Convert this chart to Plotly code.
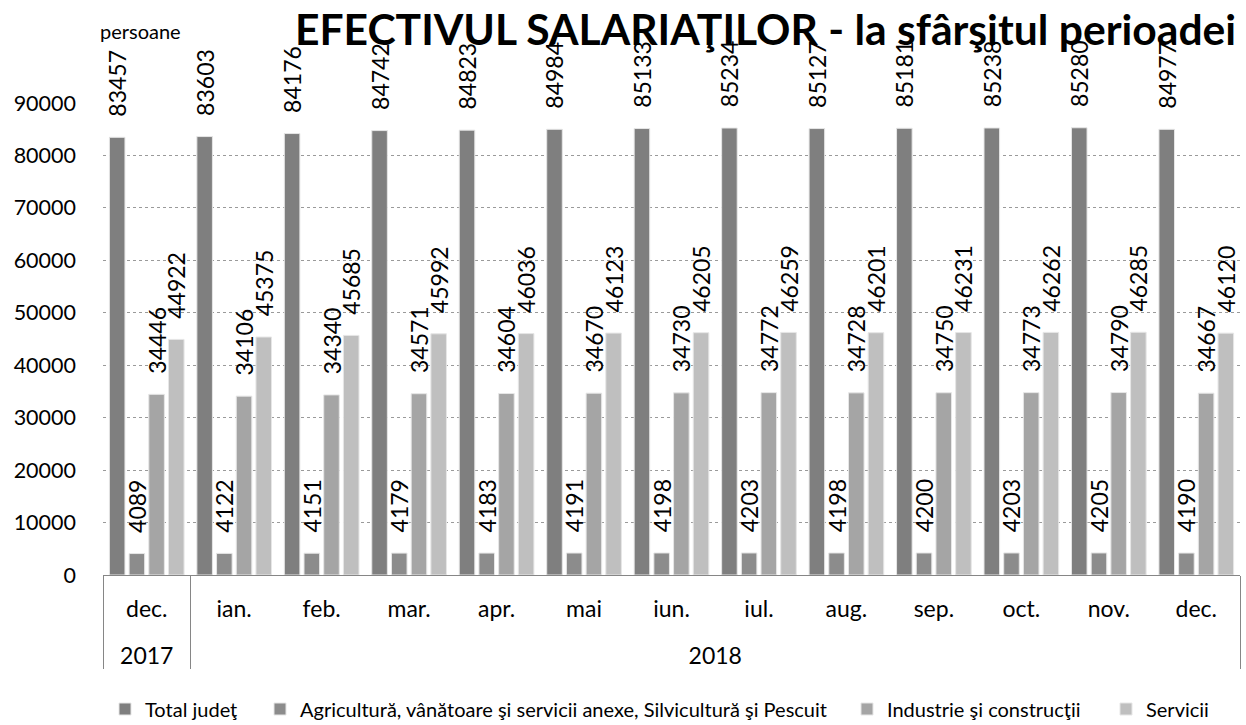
import plotly.graph_objects as go

years = ["2017"] + ["2018"] * 12
# the 2017 "dec." carries a zero-width space so Plotly keeps it apart from the 2018 "dec."
months = ["dec.\u200b", "ian.", "feb.", "mar.", "apr.", "mai", "iun.", "iul.", "aug.", "sep.", "oct.", "nov.", "dec."]

total = [83457, 83603, 84176, 84742, 84823, 84984, 85133, 85234, 85127, 85181, 85238, 85280, 84977]
agric = [4089, 4122, 4151, 4179, 4183, 4191, 4198, 4203, 4198, 4200, 4203, 4205, 4190]
industrie = [34446, 34106, 34340, 34571, 34604, 34670, 34730, 34772, 34728, 34750, 34773, 34790, 34667]
servicii = [44922, 45375, 45685, 45992, 46036, 46123, 46205, 46259, 46201, 46231, 46262, 46285, 46120]

series_names = ["Total judeţ",
                "Agricultură, vânătoare şi servicii anexe, Silvicultură şi Pescuit",
                "Industrie şi construcţii",
                "Servicii"]
series_values = [total, agric, industrie, servicii]
colors = ["#7f7f7f", "#8c8c8c", "#a5a5a5", "#bfbfbf"]

FONT = "Lato"
PLOT_L, PLOT_R, PLOT_T, PLOT_B = 103, 1240, 103, 575
PW = PLOT_R - PLOT_L
PH = PLOT_B - PLOT_T

legend_ids = ["legend", "legend2", "legend3", "legend4"]
legend_text_x = [147, 302, 889, 1148]

# month labels get an extra blank line so the year row sits lower, as in the reference
month_labels = [m + "<br>\u00a0" for m in months]

fig = go.Figure()
for name, vals, col, lid in zip(series_names, series_values, colors, legend_ids):
    fig.add_trace(go.Bar(
        x=[years, month_labels], y=vals, name=name, legend=lid,
        marker=dict(color=col, line=dict(color="#e6e6e6", width=1)),
        text=["\u00a0\u00a0\u00a0" + str(v) for v in vals],
        textposition="outside", textangle=-90,
        textfont=dict(size=23, color="#000000", family=FONT),
        constraintext="none", cliponaxis=False, hoverinfo="skip"))

legend_layout = {}
for lid, tx in zip(legend_ids, legend_text_x):
    legend_layout[lid] = dict(
        orientation="h", x=(tx - 42 - PLOT_L) / PW, xanchor="left",
        y=-(709 - PLOT_B) / PH, yanchor="middle",
        font=dict(size=20, family=FONT, color="#000000"),
        bgcolor="rgba(0,0,0,0)", itemclick=False, itemdoubleclick=False)

fig.update_layout(
    width=1246, height=725,
    margin=dict(l=PLOT_L, r=1246 - PLOT_R, t=PLOT_T, b=725 - PLOT_B, autoexpand=False),
    paper_bgcolor="white", plot_bgcolor="white",
    barmode="group", bargap=0.099, bargroupgap=0.21,
    font=dict(family=FONT, color="#000000"),
    showlegend=True,
    yaxis=dict(range=[0, 90000], dtick=10000, tickformat="d",
               showgrid=True, gridcolor="#9a9a9a", griddash="dot", gridwidth=1,
               zeroline=False, showline=False, ticks="", automargin=False,
               ticklabelstandoff=26, tickfont=dict(size=21.5, family=FONT, color="#000000")),
    xaxis=dict(type="multicategory", showline=True, linecolor="#868686", linewidth=1,
               showdividers=True, dividercolor="#868686", dividerwidth=1,
               automargin=False, ticklabelstandoff=13,
               tickfont=dict(size=23, family=FONT, color="#000000")),
    annotations=[
        dict(text="persoane", xref="paper", yref="paper",
             x=(98 - PLOT_L) / PW, y=1 + (PLOT_T - 31) / PH, xanchor="left", yanchor="middle",
             showarrow=False, font=dict(size=20, family=FONT, color="#000000")),
        dict(text="<b>EFECTIVUL SALARIAŢILOR - la sfârşitul perioadei</b>",
             xref="paper", yref="paper",
             x=(1238 - PLOT_L) / PW, y=1 + (PLOT_T - 28) / PH, xanchor="right", yanchor="middle",
             showarrow=False, font=dict(size=42.6, family=FONT, color="#000000")),
    ],
    **legend_layout,
)

fig.write_html("out.html", config={"displayModeBar": False},
               post_script="document.body.style.margin='0';document.body.style.overflow='hidden';")
